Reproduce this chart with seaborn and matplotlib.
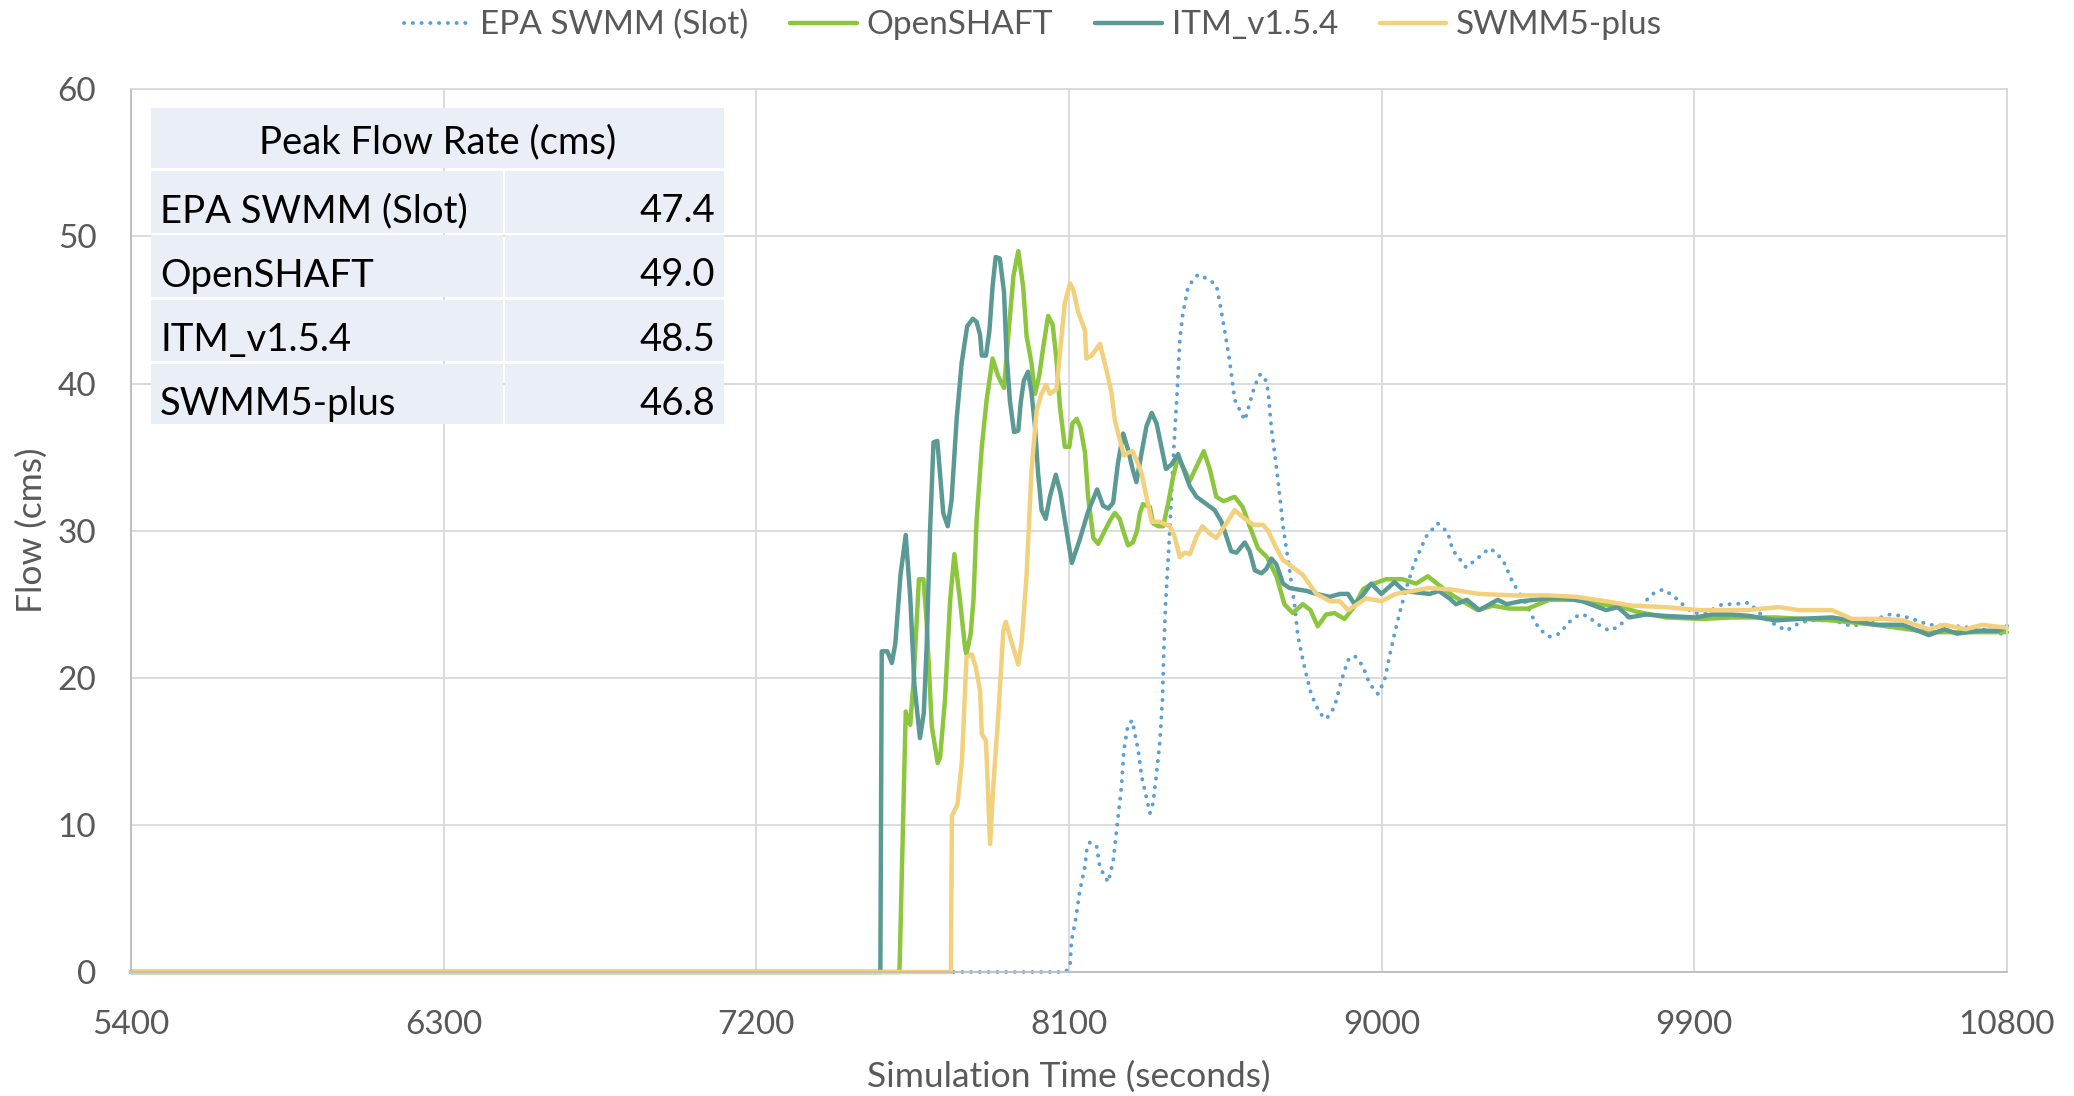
import numpy as np
import pandas as pd
import matplotlib
matplotlib.use("Agg")
import matplotlib.pyplot as plt
import seaborn as sns
from matplotlib.patches import Rectangle

# ---------------- data ----------------
series_names = ["EPA SWMM (Slot)", "OpenSHAFT", "ITM_v1.5.4", "SWMM5-plus"]
peak_flow = [47.4, 49.0, 48.5, 46.8]
x_ticks = [5400, 6300, 7200, 8100, 9000, 9900, 10800]
y_ticks = [0, 10, 20, 30, 40, 50, 60]

# (time s, flow cms)
epa_swmm = [(5400, 0), (8090, 0), (8103, 0.4), (8107, 2.1), (8120, 3.7), (8131, 5.5), (8146, 7.2),
            (8152, 8.5), (8160, 8.8), (8179, 8.6), (8189, 7.1), (8213, 6.1), (8227, 7.5), (8241, 10.5),
            (8251, 12.6), (8258, 15.1), (8270, 16.8), (8282, 17.1), (8299, 15.1), (8309, 13.3),
            (8333, 10.8), (8342, 11.5), (8352, 13.5), (8361, 15.5), (8369, 18.5), (8373, 21.9),
            (8378, 25.0), (8390, 30.0), (8401, 35.3), (8411, 39.3), (8419, 43.0), (8428, 44.8),
            (8443, 46.6), (8471, 47.4), (8500, 47.1), (8524, 46.7), (8534, 45.5), (8548, 43.6),
            (8562, 41.6), (8577, 38.9), (8606, 37.5), (8634, 39.8), (8649, 40.6), (8663, 40.5),
            (8673, 39.5), (8682, 37.1), (8697, 34.3), (8706, 32.5), (8716, 30.3), (8735, 27.3),
            (8749, 25.0), (8759, 22.8), (8778, 20.7), (8797, 18.9), (8821, 17.6), (8841, 17.2),
            (8864, 18.0), (8884, 19.8), (8903, 21.2), (8922, 21.5), (8946, 20.8), (8965, 19.6),
            (8989, 18.9), (9008, 19.8), (9022, 21.4), (9037, 23.0), (9056, 24.8), (9075, 26.4),
            (9094, 27.8), (9128, 29.6), (9161, 30.5), (9190, 29.9), (9204, 28.7), (9243, 27.5),
            (9280, 28.2), (9310, 28.8), (9330, 28.5), (9353, 27.8), (9377, 26.5), (9416, 25.0),
            (9435, 24.1), (9454, 23.3), (9483, 22.8), (9512, 23.0), (9540, 23.8), (9569, 24.3),
            (9594, 24.2), (9617, 23.7), (9655, 23.2), (9684, 23.5), (9713, 24.3), (9751, 25.0),
            (9780, 25.7), (9809, 26.0), (9838, 25.6), (9866, 25.0), (9895, 24.4), (9933, 24.4),
            (9981, 25.0), (10009, 25.0), (10058, 25.1), (10105, 24.0), (10134, 23.6), (10165, 23.2),
            (10200, 23.7), (10230, 23.9), (10300, 23.9), (10354, 23.5), (10400, 23.8), (10460, 24.3),
            (10500, 24.2), (10540, 23.9), (10575, 23.6), (10660, 23.5), (10730, 23.3), (10776, 23.0),
            (10800, 23.0)]

openshaft = [(5400, 0), (7612, 0), (7630, 17.7), (7643, 16.8), (7652, 19.6), (7668, 26.7), (7681, 26.7),
             (7690, 23.9), (7705, 16.7), (7722, 14.2), (7729, 14.6), (7743, 18.5), (7758, 25.3),
             (7770, 28.4), (7786, 25.3), (7801, 22.0), (7805, 21.6), (7817, 23.0), (7825, 25.3),
             (7834, 30.7), (7849, 35.7), (7863, 38.9), (7880, 41.7), (7896, 40.5), (7913, 39.7),
             (7925, 43.2), (7940, 47.3), (7954, 49.0), (7968, 46.6), (7978, 43.2), (7992, 41.4),
             (8002, 39.3), (8014, 40.5), (8026, 42.5), (8040, 44.6), (8053, 44.0), (8064, 41.6),
             (8074, 38.4), (8088, 35.7), (8101, 35.7), (8110, 37.3), (8122, 37.6), (8133, 37.0),
             (8146, 35.3), (8155, 32.3), (8170, 29.5), (8184, 29.1), (8203, 30.0), (8218, 30.7),
             (8232, 31.2), (8246, 30.8), (8256, 30.0), (8270, 29.0), (8284, 29.2), (8296, 30.0),
             (8304, 31.2), (8313, 31.8), (8333, 31.6), (8342, 30.5), (8357, 30.3), (8371, 30.3),
             (8385, 31.8), (8400, 33.7), (8414, 35.0), (8448, 33.4), (8488, 35.4), (8505, 34.2),
             (8524, 32.3), (8545, 32.0), (8577, 32.3), (8600, 31.6), (8620, 30.3), (8644, 28.8),
             (8670, 28.2), (8697, 26.9), (8720, 25.0), (8744, 24.4), (8773, 25.0), (8795, 24.6),
             (8816, 23.5), (8840, 24.3), (8864, 24.4), (8893, 24.0), (8920, 24.8), (8946, 26.0),
             (8965, 26.3), (9013, 26.7), (9060, 26.7), (9099, 26.4), (9133, 26.9), (9165, 26.3),
             (9204, 25.6), (9240, 25.1), (9276, 24.6), (9320, 24.9), (9368, 24.7), (9420, 24.7),
             (9483, 25.3), (9560, 25.3), (9626, 25.0), (9680, 24.9), (9732, 24.5), (9818, 24.1),
             (9923, 24.0), (10009, 24.1), (10134, 24.1), (10296, 23.9), (10422, 23.6), (10575, 23.1),
             (10700, 23.1), (10800, 23.1)]

itm = [(5400, 0), (7557, 0), (7561, 21.8), (7577, 21.8), (7590, 21.0), (7600, 22.3), (7615, 27.0),
       (7630, 29.7), (7643, 25.5), (7655, 19.5), (7671, 15.9), (7682, 17.6), (7690, 22.0), (7700, 30.0),
       (7710, 36.0), (7721, 36.1), (7738, 31.2), (7751, 30.3), (7762, 32.1), (7777, 37.7), (7791, 41.4),
       (7807, 43.9), (7823, 44.4), (7834, 44.2), (7844, 43.3), (7849, 41.9), (7861, 41.9), (7871, 43.6),
       (7880, 46.6), (7889, 48.6), (7901, 48.5), (7913, 46.2), (7920, 42.1), (7930, 38.8), (7942, 36.7),
       (7954, 36.8), (7961, 38.7), (7970, 40.2), (7982, 40.8), (7992, 39.4), (8002, 37.1), (8011, 33.9),
       (8021, 31.4), (8033, 30.8), (8045, 32.3), (8062, 33.8), (8076, 32.5), (8088, 30.7), (8108, 27.8),
       (8131, 29.4), (8155, 31.3), (8181, 32.8), (8198, 31.7), (8213, 31.5), (8227, 31.9), (8241, 34.6),
       (8256, 36.6), (8270, 35.5), (8283, 34.2), (8294, 33.3), (8309, 35.3), (8323, 37.1), (8338, 38.0),
       (8352, 37.3), (8366, 35.7), (8379, 34.2), (8395, 34.5), (8414, 35.2), (8428, 34.3), (8448, 33.0),
       (8467, 32.3), (8496, 31.8), (8519, 31.4), (8539, 30.6), (8553, 29.6), (8567, 28.6), (8582, 28.5),
       (8606, 29.2), (8620, 28.6), (8635, 27.3), (8654, 27.1), (8668, 27.4), (8683, 28.1), (8697, 27.7),
       (8716, 26.4), (8735, 26.1), (8759, 26.0), (8785, 25.9), (8812, 25.7), (8850, 25.5), (8880, 25.7),
       (8903, 25.7), (8922, 25.0), (8945, 25.6), (8970, 26.4), (8999, 25.7), (9037, 26.5), (9065, 25.9),
       (9099, 25.8), (9138, 25.7), (9165, 25.9), (9195, 25.4), (9214, 25.0), (9245, 25.3), (9281, 24.6),
       (9334, 25.3), (9360, 25.0), (9400, 25.2), (9483, 25.4), (9530, 25.4), (9578, 25.2), (9646, 24.6),
       (9680, 24.8), (9713, 24.1), (9760, 24.3), (9818, 24.2), (9904, 24.1), (9950, 24.3), (10009, 24.3),
       (10060, 24.2), (10134, 23.9), (10200, 24.0), (10296, 24.1), (10350, 23.9), (10422, 23.6),
       (10500, 23.6), (10575, 22.9), (10620, 23.3), (10656, 23.0), (10720, 23.2), (10776, 23.2),
       (10800, 23.5)]

swmm5plus = [(5400, 0), (7760, 0), (7763, 10.6), (7779, 11.4), (7792, 14.4), (7805, 21.4), (7820, 21.6),
             (7832, 20.7), (7844, 19.1), (7849, 16.2), (7861, 15.7), (7873, 8.7), (7882, 12.6),
             (7896, 17.3), (7911, 23.2), (7918, 23.8), (7935, 22.4), (7954, 20.9), (7964, 22.5),
             (7978, 27.0), (7992, 34.1), (8007, 38.2), (8021, 39.3), (8034, 39.9), (8045, 39.3),
             (8064, 39.6), (8074, 42.1), (8088, 45.5), (8103, 46.8), (8112, 46.4), (8126, 44.9),
             (8146, 43.6), (8150, 41.7), (8165, 41.9), (8189, 42.7), (8208, 40.9), (8222, 39.4),
             (8232, 37.5), (8246, 36.2), (8258, 35.1), (8270, 35.3), (8283, 35.4), (8296, 34.7),
             (8309, 33.9), (8323, 32.3), (8338, 30.6), (8361, 30.6), (8390, 30.3), (8404, 29.6),
             (8419, 28.2), (8433, 28.5), (8448, 28.4), (8467, 29.6), (8484, 30.3), (8505, 29.8),
             (8524, 29.5), (8553, 30.5), (8577, 31.4), (8601, 30.9), (8630, 30.4), (8658, 30.4),
             (8673, 30.0), (8697, 28.8), (8716, 28.0), (8773, 27.0), (8812, 25.7), (8852, 25.2),
             (8880, 25.2), (8903, 24.6), (8930, 25.0), (8955, 25.4), (8999, 25.2), (9040, 25.7),
             (9090, 25.9), (9133, 26.1), (9200, 26.0), (9281, 25.7), (9380, 25.6), (9483, 25.6),
             (9560, 25.5), (9646, 25.2), (9720, 24.9), (9818, 24.8), (9914, 24.6), (10050, 24.6),
             (10144, 24.8), (10201, 24.6), (10296, 24.6), (10354, 24.0), (10450, 24.0), (10500, 23.9),
             (10575, 23.3), (10620, 23.6), (10681, 23.3), (10728, 23.6), (10800, 23.4)]

series_data = [epa_swmm, openshaft, itm, swmm5plus]

# ---------------- styling ----------------
colors = ["#5a9fd6", "#8cc63e", "#5a9994", "#f2d07c"]
W, H = 2074, 1096
fx = lambda x: x / W
fy = lambda y: 1 - y / H

sns.set_theme(style="white")
plt.rcParams['font.family'] = ['Lato', 'DejaVu Sans']
text_gray = "#595959"

fig = plt.figure(figsize=(W / 100, H / 100), dpi=100)
fig.patch.set_facecolor("white")
ax_left, ax_right, ax_top, ax_bottom = 131, 2007, 89.3, 972
ax = fig.add_axes([fx(ax_left), fy(ax_bottom), (ax_right - ax_left) / W, (ax_bottom - ax_top) / H])

for name, data, col in zip(series_names, series_data, colors):
    df = pd.DataFrame(data, columns=["time", "flow"])
    if name.startswith("EPA"):
        sns.lineplot(data=df, x="time", y="flow", ax=ax, color=col, lw=2.8,
                     linestyle=(0, (0.05, 2.2)), dash_capstyle="round",
                     label=name, estimator=None, sort=False, clip_on=False)
    else:
        sns.lineplot(data=df, x="time", y="flow", ax=ax, color=col, lw=3.2,
                     label=name, estimator=None, sort=False, clip_on=False,
                     solid_joinstyle="round")

ax.set_xlim(5400, 10800)
ax.set_ylim(0, 60)
ax.set_xticks(x_ticks)
ax.set_yticks(y_ticks)
ax.set_xticklabels([str(v) for v in x_ticks])
ax.set_yticklabels([str(v) for v in y_ticks])
ax.grid(True, color="#d9d9d9", lw=1.3)
ax.set_axisbelow(True)
for side in ["top", "right"]:
    ax.spines[side].set_color("#d9d9d9")
    ax.spines[side].set_linewidth(1.3)
for side in ["left", "bottom"]:
    ax.spines[side].set_color("#bfbfbf")
    ax.spines[side].set_linewidth(1.4)
ax.tick_params(axis="both", length=0, labelsize=24, labelcolor=text_gray)
ax.tick_params(axis="x", pad=27)
ax.tick_params(axis="y", pad=25)

ax.set_xlabel("Simulation Time (seconds)", fontsize=25.5, color=text_gray, va="center")
ax.xaxis.set_label_coords(0.5, -(1077 - ax_bottom) / (ax_bottom - ax_top))
ax.set_ylabel("Flow (cms)", fontsize=25.5, color=text_gray, va="center")
ax.yaxis.set_label_coords(-(ax_left - 32) / (ax_right - ax_left), 0.5)

handles, labels = ax.get_legend_handles_labels()
if ax.get_legend() is not None:
    ax.get_legend().remove()
fig.legend(handles, labels, loc="center", bbox_to_anchor=(fx(1033), fy(25)), ncol=4,
           frameon=False, fontsize=24, handlelength=2.0, handletextpad=0.3,
           columnspacing=1.25, labelcolor=text_gray)

# ---------------- peak-flow table ----------------
cell_color = "#e9eef7"
tx0, tx1, tsplit = 151, 724, 503.5
header_top, header_bot = 107.5, 168
row_tops = [171, 235, 299.5, 363.5]
row_bots = [232.5, 296.5, 360.5, 424]
table_fs = 27.5

fig.add_artist(Rectangle((fx(tx0), fy(header_bot)), (tx1 - tx0) / W, (header_bot - header_top) / H,
                         transform=fig.transFigure, facecolor=cell_color, edgecolor="none", zorder=2))
fig.text(fx((tx0 + tx1) / 2), fy(header_top + 46), "Peak Flow Rate (cms)", ha="center", va="baseline",
         fontsize=table_fs, color="black", zorder=3)
for name, val, t, b in zip(series_names, peak_flow, row_tops, row_bots):
    fig.add_artist(Rectangle((fx(tx0), fy(b)), (tsplit - 1 - tx0) / W, (b - t) / H,
                             transform=fig.transFigure, facecolor=cell_color, edgecolor="none", zorder=2))
    fig.add_artist(Rectangle((fx(tsplit + 1.5), fy(b)), (tx1 - tsplit - 1.5) / W, (b - t) / H,
                             transform=fig.transFigure, facecolor=cell_color, edgecolor="none", zorder=2))
    fig.text(fx(160), fy(t + 51.5), name, ha="left", va="baseline", fontsize=table_fs, color="black", zorder=3)
    fig.text(fx(715), fy(t + 51.5), f"{val:.1f}", ha="right", va="baseline", fontsize=table_fs,
             color="black", zorder=3)

fig.savefig("out.png", dpi=100, facecolor="white")
